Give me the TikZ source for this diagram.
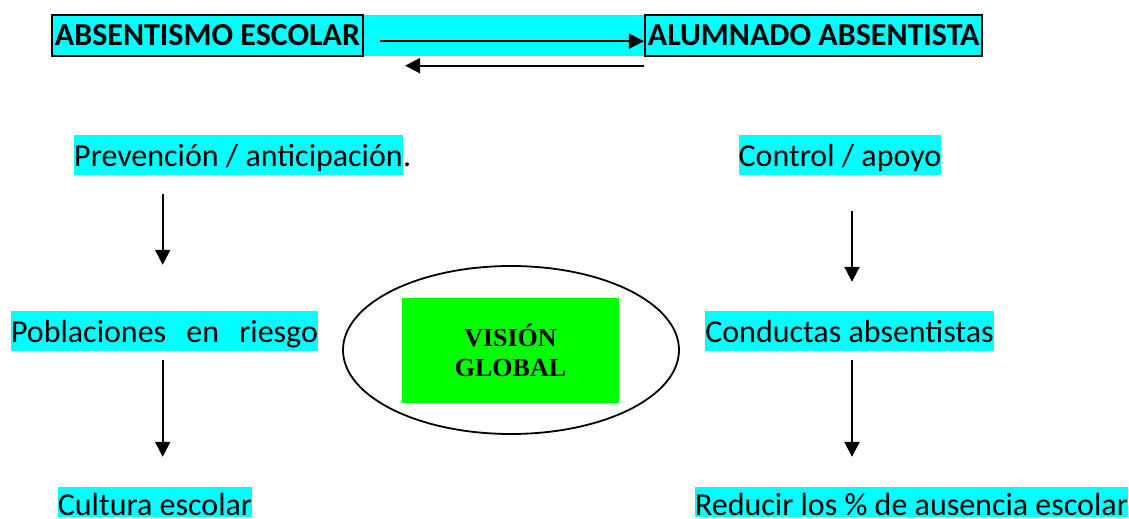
\documentclass[tikz,border=0pt]{standalone}
\usepackage{fontspec}
\setmainfont{Carlito}
\newfontfamily\timesfont{Liberation Serif}
\usepackage{tikz}
\usetikzlibrary{arrows.meta}
\usetikzlibrary{shapes.geometric}
\definecolor{hlcyan}{HTML}{00FFFF}
\definecolor{hlgreen}{HTML}{00FF00}
\newcommand{\hlfont}{\fontsize{32pt}{39pt}\selectfont}
\tikzset{
	hl/.style={fill=hlcyan,inner sep=0pt,text height=31pt,text depth=9pt,font=\hlfont},
	hlbottom/.style={hl,text height=28pt,text depth=2pt},
	titlebox/.style={draw,line width=2pt,inner xsep=3pt,inner ysep=0pt,minimum height=41pt,text height=31pt,text depth=10pt,font=\hlfont\bfseries},
	arr/.style={line width=2pt,-{Triangle[width=15pt,length=15pt]}}
}

\begin{document}
\begin{tikzpicture}[x=1pt,y=-1pt]
	\useasboundingbox (0,0) rectangle (1129,519);
	\fill[hlcyan] (53,14.7) rectangle (981.7,55.7);
	\draw (207.5,35.2) node[titlebox,minimum width=309pt] (absent) {ABSENTISMO ESCOLAR};
	\draw (813.7,35.2) node[titlebox,minimum width=336pt] (alumn) {ALUMNADO ABSENTISTA};
	\draw[arr] ([shift={(16,6)}]absent.east) -- ([shift={(0,6)}]alumn.west);
	\draw[arr] ([shift={(0,9)}]alumn.south west) -- ([shift={(41,9)}]absent.south east);
	% left column
	\draw (238.5,155) node[hl] (prev) {Prevención / anticipación};
	\draw (prev.base east) node[anchor=base west,inner sep=0pt,font=\hlfont] (prevdot) {.};
	\draw (164.5,331) node[hl] (pobl) {\makebox[307pt][s]{Poblaciones en riesgo}};
	\draw (155,502) node[hlbottom] (cult) {Cultura escolar};
	% right column
	\draw (840,155) node[hl] (ctrl) {Control / apoyo};
	\draw (849.5,331) node[hl] (cond) {Conductas absentistas};
	\draw (911.5,502) node[hlbottom] (redu) {Reducir los \% de ausencia escolar};
	\coordinate (lcol) at (162.7,0);
	\coordinate (rcol) at (852,0);
	\foreach \a/\b/\c/\s/\e in {prev/pobl/lcol/19/46,pobl/cult/lcol/9/30,ctrl/cond/rcol/36/29,cond/redu/rcol/9/30} {
		\draw[arr,shorten <=\s pt,shorten >=\e pt] (\a.south -| \c) -- (\b.north -| \c);
	}
	% centre
	\draw (511,350) node[draw,ellipse,line width=1.8pt,minimum width=336pt,minimum height=168pt] (glob) {};
	\draw (510.5,350.5) node[fill=hlgreen,minimum width=217pt,minimum height=105pt,align=center,font=\timesfont\bfseries\fontsize{26pt}{30.7pt}\selectfont] (vision) {VISIÓN\\GLOBAL};
\end{tikzpicture}
\end{document}
